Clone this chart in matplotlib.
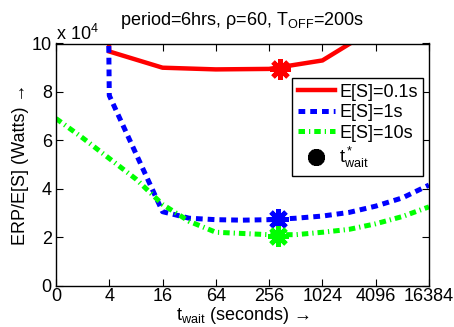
import matplotlib
matplotlib.use("Agg")
import matplotlib.pyplot as plt

plt.rcParams['font.family'] = ['Liberation Sans', 'DejaVu Sans']
plt.rcParams['mathtext.fontset'] = 'custom'
plt.rcParams['mathtext.rm'] = 'Liberation Sans'
plt.rcParams['mathtext.it'] = 'Liberation Sans'

# x positions are tick indices (tick labels are t_wait in seconds)
tick_labels = ['0', '4', '16', '64', '256', '1024', '4096', '16384']

x_red = [0.985, 1, 2, 3, 4, 5, 6]
y_red = [10.6, 9.67, 9.0, 8.93, 8.95, 9.3, 10.65]

x_blue = [0.98, 1, 1.5, 2, 2.5, 3, 3.5, 4, 4.5, 5, 5.5, 6, 6.5, 7]
y_blue = [12.0, 7.85, 5.45, 3.05, 2.78, 2.72, 2.7, 2.72, 2.78, 2.87, 3.02, 3.28, 3.62, 4.15]

x_green = [0, 0.5, 1, 1.5, 2, 2.5, 3, 3.5, 4, 4.5, 5, 5.5, 6, 6.5, 7]
y_green = [6.9, 6.1, 5.25, 4.4, 3.35, 2.65, 2.2, 2.15, 2.1, 2.1, 2.2, 2.32, 2.55, 2.85, 3.25]

# optimal t_wait markers
x_star = [4.2, 4.16, 4.17]
y_star = [8.95, 2.75, 2.06]

labels = ['E[S]=0.1s', 'E[S]=1s', 'E[S]=10s']
colors = ['#ff0000', '#0000ff', '#00ff00']

fs = 13

fig = plt.figure(figsize=(4.54, 3.27), dpi=100)
ax = fig.add_axes([56/454, 1-285.5/327, 373/454, 242/327])

ax.plot(x_red, y_red, color=colors[0], lw=3.2, label=labels[0], solid_joinstyle='miter')
ax.plot(x_blue, y_blue, color=colors[1], lw=3.6, linestyle=(0, (1.35, 1.0)),
        dash_capstyle='butt', label=labels[1])
ax.plot(x_green, y_green, color=colors[2], lw=3.6, linestyle=(0, (1.3, 0.8, 0.25, 0.8)),
        dash_capstyle='butt', label=labels[2])

star = (8, 2, 0)
for xs, ys, c in zip(x_star, y_star, colors):
    ax.plot([xs], [ys], marker=star, color=c, markersize=15, mew=3.5, linestyle='none')
ax.plot([], [], marker=star, color='black', markersize=12, mew=4, linestyle='none',
        label=r'$\mathregular{t^*_{wait}}$')

ax.set_xlim(0, 7)
ax.set_ylim(0, 10)
ax.set_xticks(range(8))
ax.set_xticklabels(tick_labels)
ax.set_yticks([0, 2, 4, 6, 8, 10])
ax.set_yticklabels(['0', '2', '4', '6', '8', '10'])
ax.tick_params(direction='in', length=5, width=0.8, top=True, right=True,
               labelsize=fs)
ax.tick_params(axis='x', pad=2)
ax.tick_params(axis='y', pad=3)
for s in ax.spines.values():
    s.set_linewidth(1.0)

ax.set_title(r'period=6hrs, ρ=60, T$\mathregular{_{OFF}}$=200s', fontsize=fs, pad=13)
ax.text(0.0, 1.0, r'x 10$\mathregular{^4}$', transform=ax.transAxes, fontsize=fs,
        ha='left', va='bottom')
ax.set_xlabel(r't$\mathregular{_{wait}}$ (seconds) →', fontsize=fs, labelpad=0)
ax.set_ylabel('ERP/E[S] (Watts) →', fontsize=fs, labelpad=2)

leg = ax.legend(loc='upper left', bbox_to_anchor=(0.633, 0.857), borderaxespad=0,
                fontsize=fs, fancybox=False, framealpha=1, edgecolor='black',
                handlelength=2.1, handletextpad=0.2, labelspacing=0.2,
                borderpad=0.3)
leg.get_frame().set_linewidth(1.0)

fig.savefig('out.png', dpi=100)
